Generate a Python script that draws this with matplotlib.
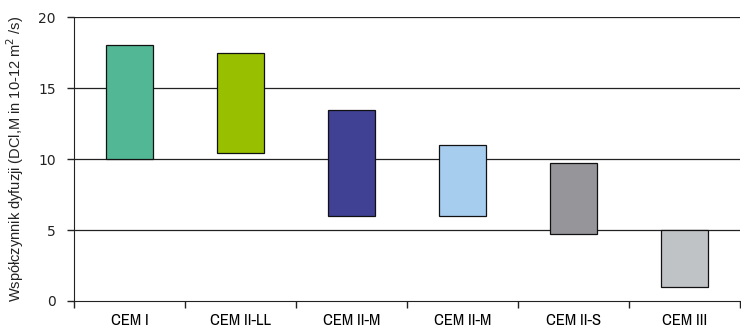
import numpy as np
import matplotlib
matplotlib.use("Agg")
import matplotlib.pyplot as plt
from matplotlib import font_manager

# data
categories = ["CEM I", "CEM II-LL", "CEM II-M", "CEM II-M", "CEM II-S", "CEM III"]
low = [10.0, 10.45, 6.0, 6.0, 4.7, 1.0]
high = [18.0, 17.45, 13.45, 11.0, 9.7, 5.0]
colors = ["#52b795", "#99c000", "#404095", "#a6ccee", "#96959a", "#c0c3c6"]

# pick a condensed face for the category labels if one is around
names = sorted({f.name for f in font_manager.fontManager.ttflist})
cond = [n for n in names if "Narrow" in n or "Condensed" in n]
cat_font = cond[0] if cond else "Liberation Sans"

fig = plt.figure(figsize=(7.41, 3.35), dpi=100)
ax = fig.add_axes([0.0999, 0.1015, 0.8988, 0.8475])

x = np.arange(len(categories)) + 0.5
heights = np.array(high) - np.array(low)

# soft shadow behind bars
ax.bar(x + 0.012, heights, bottom=np.array(low) - 0.08, width=0.42,
       color="#b0b0b0", zorder=2, linewidth=0)
ax.bar(x, heights, bottom=low, width=0.42, color=colors,
       edgecolor="#111111", linewidth=0.9, zorder=3)

for y in [5, 10, 15, 20]:
    ax.axhline(y, color="#222222", linewidth=0.9, zorder=1)

ax.set_xlim(0, len(categories))
ax.set_ylim(0, 20)
ax.set_yticks([0, 5, 10, 15, 20])
ax.set_xticks(np.arange(len(categories) + 1), minor=False)
ax.set_xticklabels([])
ax.set_xticks(x, minor=True)
ax.set_xticklabels(categories, minor=True, fontsize=12, family=cat_font)
ax.tick_params(axis="x", which="minor", length=0, pad=9)
ax.tick_params(axis="x", which="major", length=5, width=1, color="#222222")
ax.tick_params(axis="y", length=5, width=1, color="#222222", labelsize=10,
               labelcolor="#222222", pad=8)

for s in ["top", "right"]:
    ax.spines[s].set_visible(False)
ax.spines["left"].set_color("#222222")
ax.spines["bottom"].set_color("#222222")

ax.set_ylabel("Współczynnik dyfuzji (DCl,M in 10-12 m$^2$ /s)", fontsize=10.5,
              family="Liberation Sans", color="#222222", labelpad=9)

fig.savefig("out.png", dpi=100)
